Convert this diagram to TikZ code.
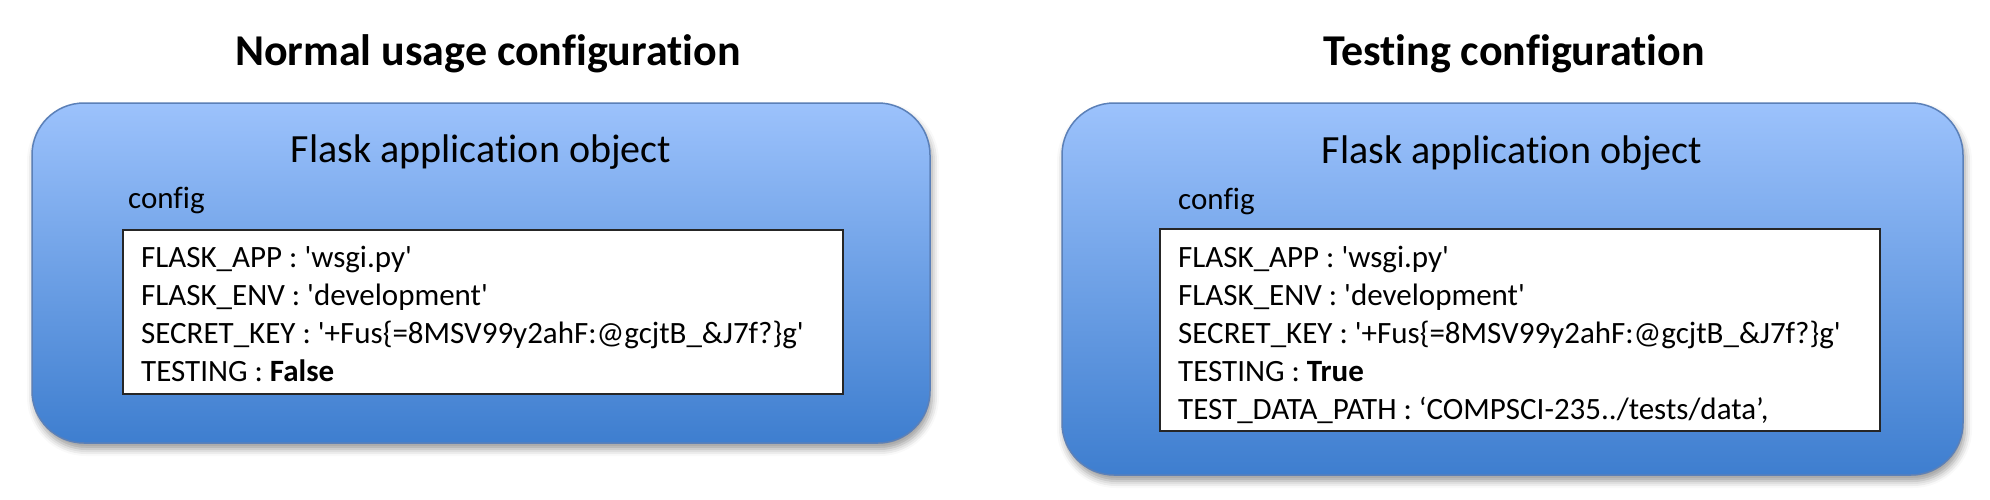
\documentclass[tikz,border=0pt]{standalone}
\usepackage{fontspec}
\setmainfont{Carlito}[Ligatures={TeXOff,NoCommon}]
\usetikzlibrary{shadows.blur}
\definecolor{topblue}{HTML}{9CC2FC}
\definecolor{botblue}{HTML}{3E7ECF}
\definecolor{edgeblue}{HTML}{5B80B8}
\begin{document}
\begin{tikzpicture}[x=1pt,y=-1pt,
  heading/.style={font=\fontsize{44}{52}\selectfont\bfseries, inner sep=0pt},
  appbox/.style={draw=edgeblue, line width=1.5pt, rounded corners=52pt,
    top color=topblue, bottom color=botblue, inner sep=0pt,
    blur shadow={shadow xshift=2pt, shadow yshift=-6pt, shadow blur radius=7pt, shadow opacity=40}},
  apptitle/.style={font=\fontsize{40}{48}\selectfont, inner sep=0pt},
  cfglabel/.style={font=\fontsize{31}{38}\selectfont, inner sep=0pt, anchor=west},
  cfgbox/.style={draw=black!85, line width=2pt, fill=white, inner sep=0pt},
  cfgtext/.style={font=\fontsize{31}{38}\selectfont, inner sep=0pt, align=left, anchor=north west}
]
\useasboundingbox (0,0) rectangle (1990,499);
% headings
\node[heading] (hL) at (488,54) {Normal usage configuration};
\node[heading] (hR) at (1514,54) {Testing configuration};
% left
\node[appbox, minimum width=898pt, minimum height=340pt] (appL) at (481,273) {};
\node[apptitle] (tL) at (481,152) {Flask application object};
\node[cfglabel] (cL) at (128,200) {config};
\node[cfgbox, minimum width=720pt, minimum height=164pt] (bL) at (483,312) {};
\node[cfgtext] (xL) at (141,246) {FLASK\_APP : 'wsgi.py'\\
FLASK\_ENV : 'development'\\
SECRET\_KEY : '+Fus\{=8MSV99y2ahF:@gcjtB\_\&J7f?\}g'\\
TESTING : \textbf{False}};
% right
\node[appbox, minimum width=901pt, minimum height=372pt] (appR) at (1512.5,289) {};
\node[apptitle] (tR) at (1512,153) {Flask application object};
\node[cfglabel] (cR) at (1178,201) {config};
\node[cfgbox, minimum width=720pt, minimum height=202pt] (bR) at (1520,330) {};
\node[cfgtext] (xR) at (1178,246) {FLASK\_APP : 'wsgi.py'\\
FLASK\_ENV : 'development'\\
SECRET\_KEY : '+Fus\{=8MSV99y2ahF:@gcjtB\_\&J7f?\}g'\\
TESTING : \textbf{True}\\
TEST\_DATA\_PATH : ‘COMPSCI-235../tests/data’,};
\end{tikzpicture}
\end{document}
